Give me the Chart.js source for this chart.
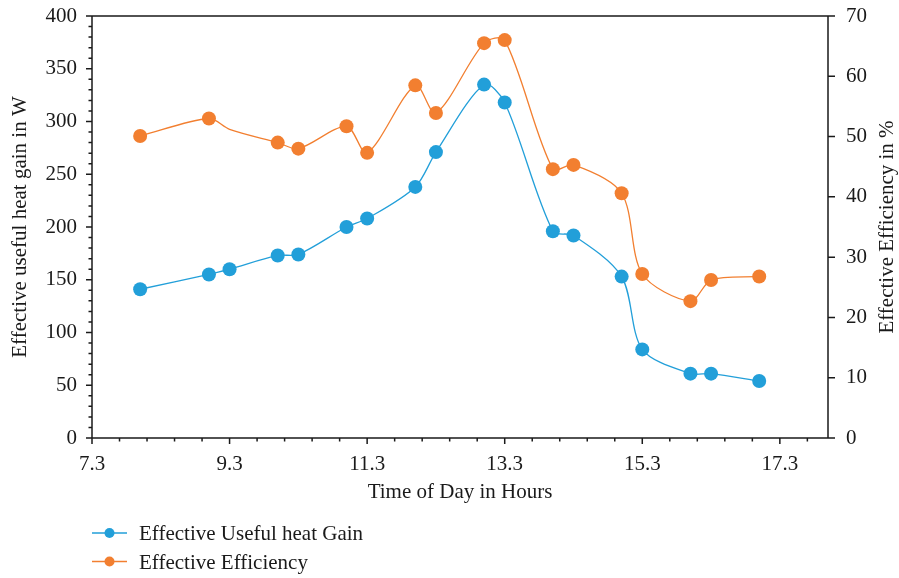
<!DOCTYPE html>
<html>
<head>
<meta charset="utf-8">
<script src="https://cdn.jsdelivr.net/npm/chart.js@4/dist/chart.umd.min.js"></script>
<style>
html,body{margin:0;padding:0;background:#fff;}
canvas{display:block;}
</style>
</head>
<body>
<canvas id="c" width="899" height="578"></canvas>
<script>
// ---- data ----
const times = [8.0, 9.0, 9.3, 10.0, 10.3, 11.0, 11.3, 12.0, 12.3, 13.0, 13.3, 14.0, 14.3, 15.0, 15.3, 16.0, 16.3, 17.0];
const heatGain = [141, 155, 160, 173, 174, 200, 208, 238, 271, 335, 318, 196, 192, 153, 84, 61, 61, 54];
const efficiency = [50.1, 53.0, 51.2, 49.0, 48.0, 51.7, 47.3, 58.5, 53.9, 65.5, 66.0, 44.6, 45.3, 40.6, 27.2, 22.7, 26.2, 26.8];
const seriesNames = ['Effective Useful heat Gain', 'Effective Efficiency'];
const xTickLabels = ['7.3', '9.3', '11.3', '13.3', '15.3', '17.3'];
const leftTickLabels = ['0', '50', '100', '150', '200', '250', '300', '350', '400'];
const rightTickLabels = ['0', '10', '20', '30', '40', '50', '60', '70'];
const xTitle = 'Time of Day in Hours';
const leftTitle = 'Effective useful heat gain in W';
const rightTitle = 'Effective Efficiency in %';
const hiddenMarkerTime = 9.3; // efficiency point drawn without marker in the original

// ---- styling ----
const BLUE = '#229fd9';
const ORANGE = '#f27f30';
const INK = '#1a1a1a';
const FONT = '"Liberation Serif", "Times New Roman", serif';
const FS = 21;

Chart.defaults.font.family = FONT;
Chart.defaults.font.size = FS;
Chart.defaults.color = INK;

const xTickValues = [];
for (let k = 0; k <= 26; k++) xTickValues.push((73 + 4 * k) / 10);
const leftTickValues = [];
for (let v = 0; v <= 400; v += 10) leftTickValues.push(v);
const rightTickValues = [];
for (let v = 0; v <= 70; v += 10) rightTickValues.push(v);

const framePlugin = {
  id: 'frame',
  afterDraw(chart) {
    const {ctx, chartArea: a, scales} = chart;
    ctx.save();
    ctx.strokeStyle = INK;
    ctx.lineWidth = 1.5;
    ctx.beginPath();
    ctx.moveTo(a.left, a.top); ctx.lineTo(a.right, a.top);
    ctx.moveTo(a.left, a.top - 0.75); ctx.lineTo(a.left, a.bottom + 0.75);
    ctx.moveTo(a.left, a.bottom); ctx.lineTo(a.right, a.bottom);
    ctx.moveTo(a.right, a.top - 0.75); ctx.lineTo(a.right, a.bottom + 0.75);
    scales.x.ticks.forEach((t, i) => {
      const p = scales.x.getPixelForValue(t.value);
      const len = (i % 5 === 0) ? 6 : 3.5;
      ctx.moveTo(p, a.bottom); ctx.lineTo(p, a.bottom + len);
    });
    scales.y.ticks.forEach(t => {
      const p = scales.y.getPixelForValue(t.value);
      const len = (t.value % 50 === 0) ? 6 : 3.5;
      ctx.moveTo(a.left, p); ctx.lineTo(a.left - len, p);
    });
    scales.y1.ticks.forEach(t => {
      const p = scales.y1.getPixelForValue(t.value);
      ctx.moveTo(a.right, p); ctx.lineTo(a.right + 7, p);
    });
    ctx.stroke();

    // right axis title (reads bottom-to-top)
    ctx.fillStyle = INK;
    ctx.font = FS + 'px ' + FONT;
    ctx.textAlign = 'center';
    ctx.textBaseline = 'middle';
    ctx.save();
    ctx.translate(887, (a.top + a.bottom) / 2);
    ctx.rotate(-Math.PI / 2);
    ctx.fillText(rightTitle, 0, 0);
    ctx.restore();

    // legend
    chart.data.datasets.forEach((ds, i) => {
      const y = 533 + i * 28.5;
      ctx.strokeStyle = ds.borderColor;
      ctx.lineWidth = 1.3;
      ctx.beginPath();
      ctx.moveTo(92, y); ctx.lineTo(127, y);
      ctx.stroke();
      ctx.fillStyle = ds.borderColor;
      ctx.beginPath();
      ctx.arc(109.5, y, 5, 0, Math.PI * 2);
      ctx.fill();
      ctx.fillStyle = INK;
      ctx.textAlign = 'left';
      ctx.textBaseline = 'middle';
      ctx.fillText(ds.label, 139, y + 1.5);
    });
    ctx.restore();
  }
};

new Chart(document.getElementById('c'), {
  type: 'line',
  data: {
    datasets: [
      {
        label: seriesNames[0],
        data: times.map((t, i) => ({x: t, y: heatGain[i]})),
        yAxisID: 'y',
        borderColor: BLUE,
        backgroundColor: BLUE,
        borderWidth: 1.3,
        pointRadius: 7,
        pointBorderWidth: 0,
        pointBackgroundColor: BLUE,
        tension: 0.3
      },
      {
        label: seriesNames[1],
        data: times.map((t, i) => ({x: t, y: efficiency[i]})),
        yAxisID: 'y1',
        borderColor: ORANGE,
        backgroundColor: ORANGE,
        borderWidth: 1.3,
        pointRadius: ctx => (times[ctx.dataIndex] === hiddenMarkerTime ? 0 : 7),
        pointBorderWidth: 0,
        pointBackgroundColor: ORANGE,
        tension: 0.3
      }
    ]
  },
  options: {
    responsive: false,
    animation: false,
    devicePixelRatio: 1,
    layout: {padding: {left: 0, right: 0, top: 16, bottom: 73}},
    plugins: {legend: {display: false}, tooltip: {enabled: false}},
    scales: {
      x: {
        type: 'linear',
        min: 7.3,
        max: 18.0,
        afterBuildTicks: s => { s.ticks = xTickValues.map(v => ({value: v})); },
        afterFit: s => { s.height = 67; s.paddingLeft = 0; s.paddingRight = 0; },
        grid: {display: false, drawTicks: false},
        border: {display: false},
        ticks: {
          autoSkip: false,
          maxRotation: 0,
          padding: 14,
          callback: (v, i) => (i % 5 === 0 ? xTickLabels[i / 5] : '')
        },
        title: {display: true, text: xTitle, padding: {top: 0, bottom: 0}, font: {size: FS}}
      },
      y: {
        type: 'linear',
        position: 'left',
        min: 0,
        max: 400,
        afterBuildTicks: s => { s.ticks = leftTickValues.map(v => ({value: v})); },
        afterFit: s => { s.width = 92; s.paddingTop = 0; s.paddingBottom = 0; },
        grid: {display: false, drawTicks: false},
        border: {display: false},
        ticks: {
          autoSkip: false,
          padding: 15,
          callback: v => (v % 50 === 0 ? leftTickLabels[v / 50] : '')
        },
        title: {display: true, text: leftTitle, padding: {top: 8, bottom: 0}, font: {size: FS}}
      },
      y1: {
        type: 'linear',
        position: 'right',
        min: 0,
        max: 70,
        afterBuildTicks: s => { s.ticks = rightTickValues.map(v => ({value: v})); },
        afterFit: s => { s.width = 71; s.paddingTop = 0; s.paddingBottom = 0; },
        grid: {display: false, drawTicks: false},
        border: {display: false},
        ticks: {
          autoSkip: false,
          padding: 18,
          callback: v => rightTickLabels[v / 10]
        }
      }
    }
  },
  plugins: [framePlugin]
});
</script>
</body>
</html>
